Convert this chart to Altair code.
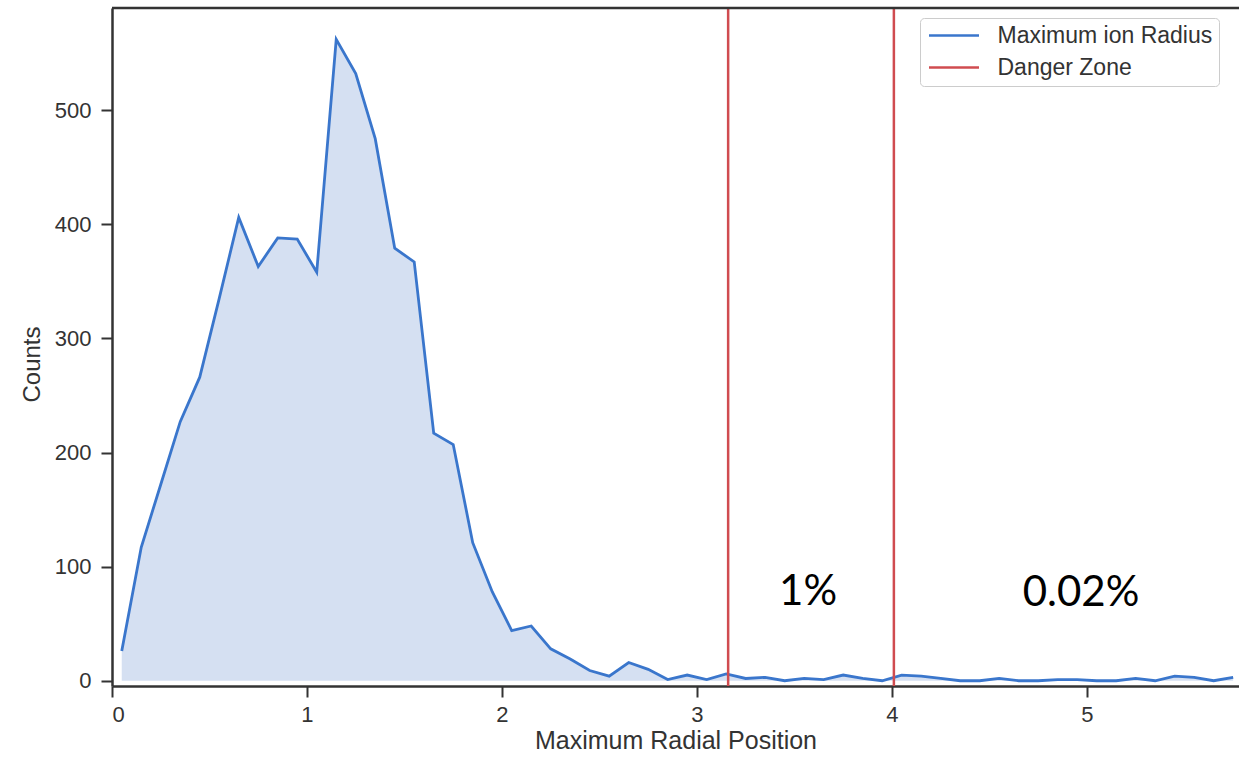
import altair as alt
import pandas as pd

# ---- data ----
radius = [0.05, 0.15, 0.25, 0.35, 0.45, 0.55, 0.65, 0.75, 0.85, 0.95,
          1.05, 1.15, 1.25, 1.35, 1.45, 1.55, 1.65, 1.75, 1.85, 1.95,
          2.05, 2.15, 2.25, 2.35, 2.45, 2.55, 2.65, 2.75, 2.85, 2.95,
          3.05, 3.15, 3.25, 3.35, 3.45, 3.55, 3.65, 3.75, 3.85, 3.95,
          4.05, 4.15, 4.25, 4.35, 4.45, 4.55, 4.65, 4.75, 4.85, 4.95,
          5.05, 5.15, 5.25, 5.35, 5.45, 5.55, 5.65, 5.75]
counts = [26, 117, 172, 227, 266, 335, 406, 363, 388, 387,
          358, 562, 532, 475, 379, 367, 217, 207, 121, 78,
          44, 48, 28, 19, 9, 4, 16, 10, 1, 5,
          1, 6, 2, 3, 0, 2, 1, 5, 2, 0,
          5, 4, 2, 0, 0, 2, 0, 0, 1, 1,
          0, 0, 2, 0, 4, 3, 0, 3]

danger_x = [3.16, 4.01]

ann_x = [3.57, 4.97]
ann_y = [78, 77]
ann_text = ["1%", "0.02%"]

series_names = ["Maximum ion Radius", "Danger Zone"]
series_colors = ["#3a76cc", "#d04c50"]

x_ticks = [0, 1, 2, 3, 4, 5]
y_ticks = [0, 100, 200, 300, 400, 500]
X_DOMAIN = [0, 5.78]
Y_DOMAIN = [-4.6, 589.5]

# ---- tables ----
df = pd.DataFrame({"radius": radius, "counts": counts, "series": series_names[0]})
df_danger = pd.DataFrame({"x": danger_x, "series": series_names[1]})
df_ann = pd.DataFrame({"x": ann_x, "y": ann_y, "label": ann_text})
df_top = pd.DataFrame({"x": [X_DOMAIN[0]], "x2": [X_DOMAIN[1]], "y": [Y_DOMAIN[1]]})

AX = "#333333"
FONT = "Liberation Sans"

x_scale = alt.Scale(domain=X_DOMAIN, nice=False, zero=False)
y_scale = alt.Scale(domain=Y_DOMAIN, nice=False, zero=False)

color = alt.Color(
    "series:N",
    scale=alt.Scale(domain=series_names, range=series_colors),
    legend=alt.Legend(
        title=None, orient="none", legendX=808, legendY=10,
        padding=6, strokeColor="#cccccc", fillColor="white", cornerRadius=4,
        symbolType="M-2.5,0H2.5", symbolSize=400, symbolStrokeWidth=2.5,
        symbolOffset=16.5, labelOffset=32, labelLimit=0,
        labelFontSize=23, labelFont=FONT, labelColor=AX,
        rowPadding=8,
    ),
)

x_axis = alt.Axis(
    values=x_ticks, format="d", grid=False, title="Maximum Radial Position",
    tickSize=11, tickWidth=2, tickColor=AX, domainColor=AX, domainWidth=2.5,
    labelFontSize=22, labelFont=FONT, labelColor=AX, labelPadding=7,
    titleFontSize=25, titleFont=FONT, titleFontWeight="normal", titleColor=AX,
    titlePadding=3,
)
y_axis = alt.Axis(
    values=y_ticks, format="d", grid=False, title="Counts",
    tickSize=11, tickWidth=2, tickColor=AX, domainColor=AX, domainWidth=2.5,
    labelFontSize=22, labelFont=FONT, labelColor=AX, labelPadding=10,
    titleFontSize=24, titleFont=FONT, titleFontWeight="normal", titleColor=AX,
    titlePadding=10, titleY=356,
)

base = alt.Chart(df)

area = base.mark_area(color="#d5e0f2", opacity=1, clip=True).encode(
    x=alt.X("radius:Q", scale=x_scale, axis=x_axis),
    y=alt.Y("counts:Q", scale=y_scale, axis=y_axis),
)

line = base.mark_line(strokeWidth=2.8, clip=True).encode(
    x=alt.X("radius:Q", scale=x_scale),
    y=alt.Y("counts:Q", scale=y_scale),
    color=color,
)

rules = alt.Chart(df_danger).mark_rule(strokeWidth=2.5).encode(
    x=alt.X("x:Q", scale=x_scale),
    color=color,
)

top_spine = alt.Chart(df_top).mark_rule(color=AX, strokeWidth=2.5).encode(
    x=alt.X("x:Q", scale=x_scale),
    x2="x2:Q",
    y=alt.Y("y:Q", scale=y_scale),
)

ann = alt.Chart(df_ann).mark_text(
    font="Lato", fontSize=42, color="black", align="center", baseline="middle"
).encode(
    x=alt.X("x:Q", scale=x_scale),
    y=alt.Y("y:Q", scale=y_scale),
    text="label:N",
)

chart = alt.layer(area, line, rules, top_spine, ann).properties(
    width=1127, height=678,
    autosize=alt.AutoSizeParams(type="none"),
    padding={"left": 112, "top": 8, "right": 0, "bottom": 71},
).configure_view(stroke=None).configure(background="white")

chart.save("out.html", embed_options={"renderer": "svg", "actions": False})
